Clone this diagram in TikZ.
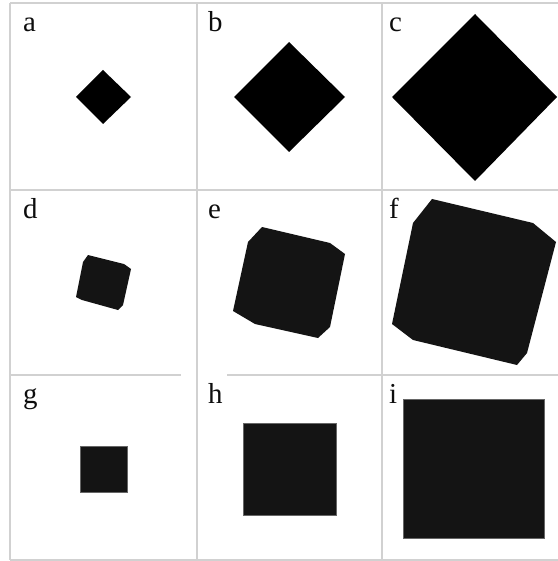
\documentclass[tikz,border=0pt]{standalone}
\usepackage{fontspec}
\setmainfont{Liberation Serif}

\begin{document}
\begin{tikzpicture}[
          x=1bp, y=-1bp,
          grid/.style={draw=black!18, line width=1.3bp},
          rot/.style={fill=black},
          blob/.style={fill=black!92},
          sq/.style={fill=black!92, draw=black!60, line width=0.6bp},
          lbl/.style={anchor=base west, inner sep=0pt, text=black!95,
                      font=\fontsize{29}{29}\selectfont}
        ]
        \useasboundingbox[fill=white] (0,0) rectangle (558,561);
        % frame
        \draw[grid] (10,3) -- (558,3);
        \draw[grid] (10,190) -- (558,190);
        \draw[grid] (10,375) -- (181,375);
        \draw[grid] (227,375) -- (558,375);
        \draw[grid] (10,560) -- (558,560);
        \draw[grid] (10,3) -- (10,560);
        \draw[grid] (197,3) -- (197,560);
        \draw[grid] (382,3) -- (382,560);
        % row 1
        \fill[rot] (76,97) -- (103,70) -- (131,97) -- (103,124) -- cycle;
        \fill[rot] (234,97) -- (289,42) -- (345,97) -- (289,152) -- cycle;
        \fill[rot] (392,97) -- (475,14) -- (557,97) -- (475,181) -- cycle;
        % row 2
        \fill[blob] (88,255) -- (124,264) -- (131,269) -- (123,305) -- (118,310)
                    -- (82,300) -- (76,297) -- (83,262) -- cycle;
        \fill[blob] (262,227) -- (330,243) -- (345,254) -- (330,327) -- (318,338)
                    -- (255,324) -- (233,311) -- (248,242) -- cycle;
        \fill[blob] (432,199) -- (533,223) -- (556,242) -- (527,353) -- (517,365)
                    -- (413,340) -- (392,324) -- (413,223) -- cycle;
        % row 3
        \filldraw[sq] (80,446) rectangle (127,492);
        \filldraw[sq] (243,423) rectangle (336,515);
        \filldraw[sq] (403,399) rectangle (544,538);
        % labels
        \node[lbl] (la) at (23,32) {a};
        \node[lbl] (lb) at (208,32) {b};
        \node[lbl] (lc) at (389,32) {c};
        \node[lbl] (ld) at (23,219) {d};
        \node[lbl] (le) at (208,219) {e};
        \node[lbl] (lf) at (389,219) {f};
        \node[lbl] (lg) at (23,403) {g};
        \node[lbl] (lh) at (208,403) {h};
        \node[lbl] (li) at (389,403) {i};
      \end{tikzpicture}
\end{document}
